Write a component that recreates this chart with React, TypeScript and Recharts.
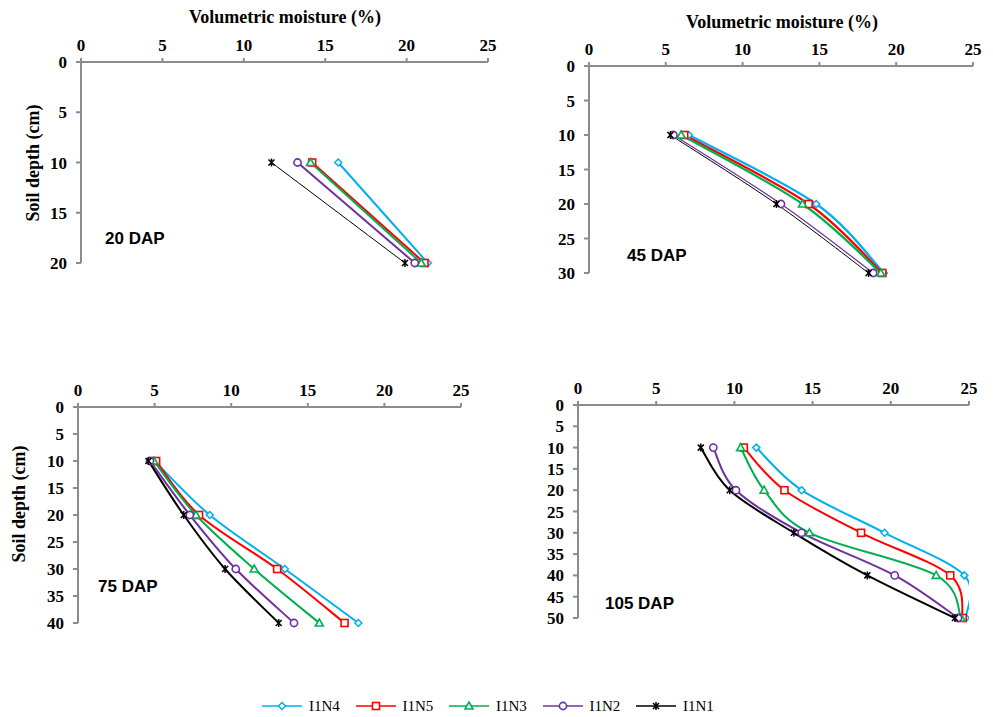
import React from 'react'
import { Line, LineChart, XAxis, YAxis } from 'recharts'

// depths (cm) and moisture readings (%) per sampling date
const depth20 = [10, 20]
const n4At20 = [15.8, 21.3]
const n5At20 = [14.2, 21.1]
const n3At20 = [14.1, 20.9]
const n2At20 = [13.3, 20.5]
const n1At20 = [11.7, 19.9]

const depth45 = [10, 20, 30]
const n4At45 = [6.5, 14.8, 19.2]
const n5At45 = [6.2, 14.3, 19.1]
const n3At45 = [6.0, 13.9, 19.0]
const n2At45 = [5.5, 12.5, 18.5]
const n1At45 = [5.3, 12.2, 18.2]

const depth75 = [10, 20, 30, 40]
const n4At75 = [5.0, 8.6, 13.5, 18.3]
const n5At75 = [5.1, 7.9, 13.0, 17.4]
const n3At75 = [4.95, 7.7, 11.5, 15.75]
const n2At75 = [4.7, 7.3, 10.3, 14.1]
const n1At75 = [4.6, 6.9, 9.6, 13.1]

const depth105 = [10, 20, 30, 40, 50]
const n4At105 = [11.4, 14.3, 19.6, 24.7, 24.8]
const n5At105 = [10.6, 13.2, 18.1, 23.8, 24.6]
const n3At105 = [10.4, 11.9, 14.8, 22.9, 24.5]
const n2At105 = [8.65, 10.1, 14.3, 20.25, 24.3]
const n1At105 = [7.85, 9.7, 13.8, 18.5, 24.1]

const moistureTicks = [0, 5, 10, 15, 20, 25]
const seriesNames = ['I1N4', 'I1N5', 'I1N3', 'I1N2', 'I1N1']

const colors: Record<string, string> = {
  I1N4: '#00B0F0',
  I1N5: '#FF0000',
  I1N3: '#00B050',
  I1N2: '#7030A0',
  I1N1: '#000000',
}

const buildRows = (depths: number[], cols: number[][]) =>
  depths.map((depth, i) => {
    const row: Record<string, number> = { depth }
    seriesNames.forEach((name, s) => {
      row[name] = cols[s][i]
    })
    return row
  })

const rows20 = buildRows(depth20, [n4At20, n5At20, n3At20, n2At20, n1At20])
const rows45 = buildRows(depth45, [n4At45, n5At45, n3At45, n2At45, n1At45])
const rows75 = buildRows(depth75, [n4At75, n5At75, n3At75, n2At75, n1At75])
const rows105 = buildRows(depth105, [n4At105, n5At105, n3At105, n2At105, n1At105])

// Excel-style smoothed line (catmull-rom through the points)
const smoothCurve = (context: any) => {
  let pts: number[][] = []
  return {
    areaStart() {},
    areaEnd() {},
    lineStart() {
      pts = []
    },
    point(x: number, y: number) {
      pts.push([+x, +y])
    },
    lineEnd() {
      if (!pts.length) return
      context.moveTo(pts[0][0], pts[0][1])
      for (let i = 0; i < pts.length - 1; i++) {
        const p0 = pts[i - 1] ?? pts[i]
        const p1 = pts[i]
        const p2 = pts[i + 1]
        const p3 = pts[i + 2] ?? p2
        context.bezierCurveTo(
          p1[0] + (p2[0] - p0[0]) / 6,
          p1[1] + (p2[1] - p0[1]) / 6,
          p2[0] - (p3[0] - p1[0]) / 6,
          p2[1] - (p3[1] - p1[1]) / 6,
          p2[0],
          p2[1],
        )
      }
    },
  }
}

function Marker({ name, cx, cy }: { name: string; cx: number; cy: number }) {
  const c = colors[name]
  if (name === 'I1N4') {
    return <path d={`M${cx},${cy - 3.5}L${cx + 3.5},${cy}L${cx},${cy + 3.5}L${cx - 3.5},${cy}Z`} fill="#fff" stroke={c} strokeWidth={1.5} />
  }
  if (name === 'I1N5') {
    return <rect x={cx - 3.5} y={cy - 3.5} width={7} height={7} fill="#fff" stroke={c} strokeWidth={1.6} />
  }
  if (name === 'I1N3') {
    return <path d={`M${cx},${cy - 4}L${cx + 4},${cy + 3}L${cx - 4},${cy + 3}Z`} fill="#fff" stroke={c} strokeWidth={1.6} />
  }
  if (name === 'I1N2') {
    return <circle cx={cx} cy={cy} r={3.6} fill="#fff" stroke={c} strokeWidth={1.6} />
  }
  return (
    <path
      d={`M${cx - 3},${cy - 3}L${cx + 3},${cy + 3}M${cx + 3},${cy - 3}L${cx - 3},${cy + 3}M${cx},${cy - 4}L${cx},${cy + 4}`}
      stroke={c}
      strokeWidth={1.5}
      fill="none"
    />
  )
}

const TopTick = ({ x, y, payload }: any) => (
  <text x={x} y={y} dy={-1} textAnchor="middle" fontFamily="Liberation Serif" fontWeight="bold" fontSize={17} fill="#000">
    {payload.value}
  </text>
)

const LeftTick = ({ x, y, payload }: any) => (
  <text x={x} y={y} dy={6} textAnchor="end" fontFamily="Liberation Serif" fontWeight="bold" fontSize={17} fill="#000">
    {payload.value}
  </text>
)

const axisGrey = '#8c8c8c'

type PanelProps = {
  rows: Record<string, number>[]
  maxDepth: number
  left: number
  top: number
  width: number
  height: number
  margin: { top: number; right: number; bottom: number; left: number }
  widths: number[]
}

function DepthPanel({ rows, maxDepth, left, top, width, height, margin, widths }: PanelProps) {
  const depthTicks = [0, 5, 10, 15, 20, 25, 30, 35, 40, 45, 50].filter((t) => t <= maxDepth)
  return (
    <div style={{ position: 'absolute', left, top }}>
      <LineChart width={width} height={height} data={rows} layout="vertical" margin={margin}>
        <XAxis
          type="number"
          orientation="top"
          domain={[0, 25]}
          ticks={moistureTicks}
          height={30}
          stroke={axisGrey}
          strokeWidth={2}
          tickSize={4}
          tickMargin={6}
          tick={<TopTick />}
          allowDataOverflow
        />
        <YAxis
          type="number"
          dataKey="depth"
          domain={[0, maxDepth]}
          ticks={depthTicks}
          width={60}
          stroke={axisGrey}
          strokeWidth={2}
          tickSize={5}
          tickMargin={9}
          tick={<LeftTick />}
          interval={0}
        />
        {seriesNames.map((name, s) => (
          <Line
            key={name}
            dataKey={name}
            type={smoothCurve as any}
            stroke={colors[name]}
            strokeWidth={widths[s]}
            isAnimationActive={false}
            dot={(p: any) => <Marker key={`${name}-${p.index}`} name={name} cx={p.cx} cy={p.cy} />}
            activeDot={false}
          />
        ))}
      </LineChart>
    </div>
  )
}

const serifBold: React.CSSProperties = {
  position: 'absolute',
  fontFamily: '"Liberation Serif", serif',
  fontWeight: 'bold',
  fontSize: 18,
  lineHeight: 1,
  whiteSpace: 'nowrap',
  color: '#000',
}

const dapStyle: React.CSSProperties = {
  position: 'absolute',
  fontFamily: '"Liberation Sans", Arial, sans-serif',
  fontWeight: 'bold',
  fontSize: 17,
  lineHeight: 1,
  whiteSpace: 'nowrap',
  transform: 'translateY(-50%)',
}

function Legend() {
  return (
    <>
      {seriesNames.map((name, i) => (
        <div
          key={name}
          style={{ position: 'absolute', left: 262 + i * 93.5, top: 697, height: 18, display: 'flex', alignItems: 'center' }}
        >
          <svg width={42} height={18}>
            <line x1={0} y1={9} x2={40} y2={9} stroke={colors[name]} strokeWidth={1.3} />
            <Marker name={name} cx={20} cy={9} />
          </svg>
          <span style={{ fontFamily: '"Liberation Serif", serif', fontSize: 15, marginLeft: 5 }}>{name}</span>
        </div>
      ))}
    </>
  )
}

export default function App() {
  return (
    <div style={{ position: 'absolute', left: 0, top: 0, width: 993, height: 717, background: '#fff', overflow: 'hidden' }}>
      <DepthPanel
        rows={rows20}
        maxDepth={20}
        left={0}
        top={0}
        width={500}
        height={300}
        margin={{ top: 32, right: 12, bottom: 37, left: 21 }}
        widths={[2, 2, 2, 2, 1]}
      />
      <DepthPanel
        rows={rows45}
        maxDepth={30}
        left={500}
        top={0}
        width={493}
        height={300}
        margin={{ top: 36, right: 20, bottom: 27, left: 29 }}
        widths={[2.25, 2.25, 2.25, 1.2, 1]}
      />
      <DepthPanel
        rows={rows75}
        maxDepth={40}
        left={0}
        top={370}
        width={500}
        height={280}
        margin={{ top: 7, right: 39, bottom: 27, left: 18 }}
        widths={[2, 2, 2, 2, 2]}
      />
      <DepthPanel
        rows={rows105}
        maxDepth={50}
        left={500}
        top={370}
        width={493}
        height={280}
        margin={{ top: 5, right: 24, bottom: 32, left: 18 }}
        widths={[2, 2, 2, 2, 2]}
      />

      <div style={{ ...serifBold, left: 285, top: 17, transform: 'translate(-50%, -50%)' }}>Volumetric moisture (%)</div>
      <div style={{ ...serifBold, left: 782, top: 22, transform: 'translate(-50%, -50%)' }}>Volumetric moisture (%)</div>
      <div style={{ ...serifBold, left: 33, top: 163, transform: 'translate(-50%, -50%) rotate(-90deg)' }}>Soil depth (cm)</div>
      <div style={{ ...serifBold, left: 19, top: 504, transform: 'translate(-50%, -50%) rotate(-90deg)' }}>Soil depth (cm)</div>

      <div style={{ ...dapStyle, left: 105, top: 238 }}>20 DAP</div>
      <div style={{ ...dapStyle, left: 627, top: 255 }}>45 DAP</div>
      <div style={{ ...dapStyle, left: 98, top: 586 }}>75 DAP</div>
      <div style={{ ...dapStyle, left: 605, top: 603 }}>105 DAP</div>

      <Legend />
    </div>
  )
}
